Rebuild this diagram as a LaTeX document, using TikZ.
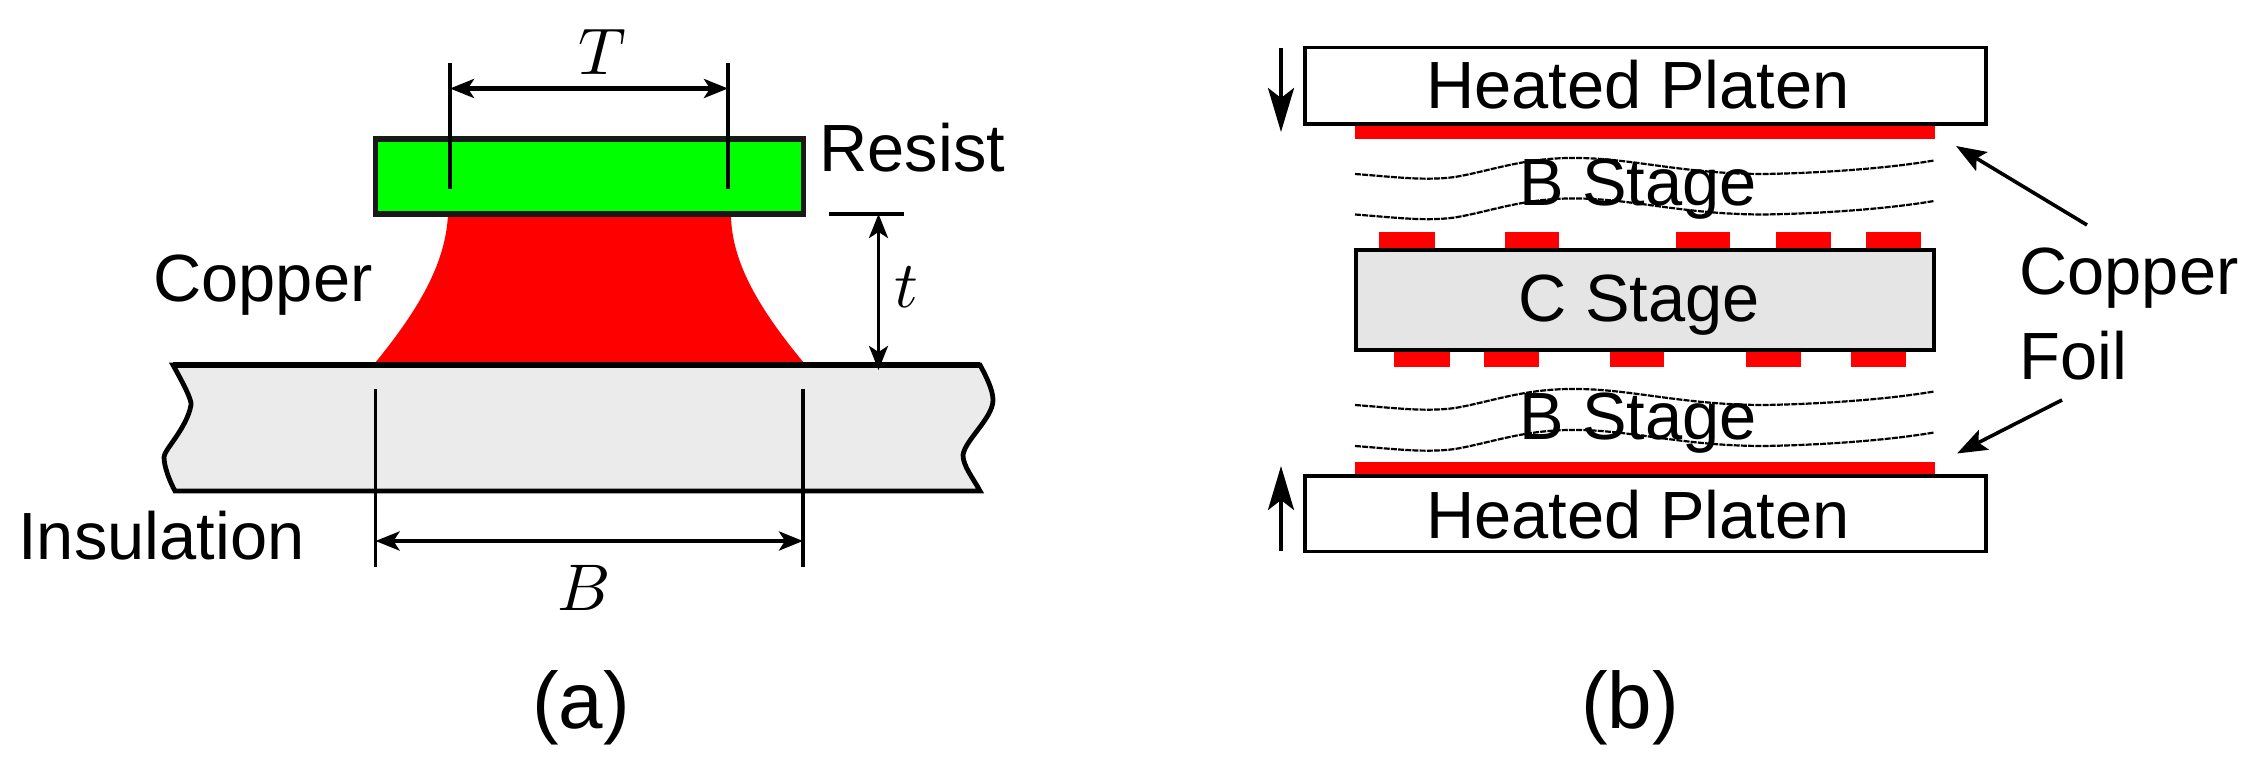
\documentclass[tikz,border=0pt]{standalone}
\usepackage{fontspec}
\setmainfont{Liberation Sans}
\usetikzlibrary{arrows.meta}
\definecolor{cugreen}{RGB}{0,255,0}
\definecolor{curedd}{RGB}{255,0,0}
\definecolor{insgray}{RGB}{235,235,235}
\definecolor{cgray}{RGB}{229,229,229}
\newcommand{\bigmath}[1]{\scalebox{3.3}{$#1$}}
\tikzset{
  lbl/.style={inner sep=0pt,font=\fontsize{33.4}{38}\selectfont,text=black},
  lblw/.style={lbl,anchor=west},
  captext/.style={inner sep=0pt,font=\fontsize{40}{45}\selectfont},
  mathlbl/.style={inner sep=0pt},
  dim/.style={line width=2.1pt,{Stealth[length=12pt,width=9.5pt,inset=3pt]}-{Stealth[length=12pt,width=9.5pt,inset=3pt]}},
  ext/.style={line width=1.8pt},
  ptr/.style={line width=1.8pt,-{Stealth[length=15pt,width=11pt,inset=3pt]}},
  press/.style={line width=1.8pt,-{Stealth[length=22pt,width=13pt,inset=5pt]}},
  platen/.style={draw=black,line width=1.8pt,fill=white},
  foil/.style={fill=curedd},
  wave/.style={line width=1.1pt,dash pattern=on 3pt off 0.6pt},
}
\begin{document}
\begin{tikzpicture}[x=0.5pt,y=-0.5pt]
\path[use as bounding box] (0,0) rectangle (2257,763);
% --- panel (a)
\fill[curedd] (448,214) .. controls (446,262) and (420,308) .. (375,363) -- (804,363)
   .. controls (760,310) and (731,262) .. (731,214) -- cycle;
\draw[fill=insgray,line width=2.4pt] (173,365) .. controls (183,383) and (192,400) .. (191,405)
   .. controls (187,428) and (164,450) .. (164,457) .. controls (164,467) and (170,482) .. (175,491)
   -- (980,491) .. controls (973,478) and (963,466) .. (963,455)
   .. controls (965,440) and (993,418) .. (993,400) .. controls (993,390) and (986,376) .. (980,365) -- cycle;
\draw[line width=3pt] (173,365) -- (980,365);
\draw[fill=cugreen,line width=2.8pt,draw=black!90] (375.5,139) rectangle (803.5,214);
\coordinate (tl1) at (450,63); \coordinate (tl2) at (450,189);
\coordinate (tr1) at (728,63); \coordinate (tr2) at (728,189);
\coordinate (bl1) at (375.5,389); \coordinate (bl2) at (375.5,567);
\coordinate (br1) at (803,389); \coordinate (br2) at (803,567);
\coordinate (ta) at (450,88.5); \coordinate (tb) at (728,88.5);
\coordinate (ba) at (375.5,541); \coordinate (bb) at (803,541);
\coordinate (ha) at (829,214); \coordinate (hb) at (904,214);
\coordinate (ga) at (878.5,214); \coordinate (gb) at (878.5,370);
\draw[ext] (tl1) -- (tl2);
\draw[ext] (tr1) -- (tr2);
\draw[ext] (bl1) -- (bl2);
\draw[ext] (br1) -- (br2);
\draw[ext,line width=2.2pt] (ha) -- (hb);
\draw[dim] (ta) -- (tb);
\draw[dim] (ba) -- (bb);
\draw[dim,line width=1.8pt] (ga) -- (gb);
\node[mathlbl] (lT) at (602,52) {\bigmath{T}};
\node[mathlbl] (lB) at (584,588) {\bigmath{B}};
\node[mathlbl] (lt) at (906,287) {\bigmath{t}};
\node[lblw] (resist) at (819,148) {Resist};
\node[lblw] (copper) at (153,285) {Copper};
\node[lblw] (insul) at (18,536) {Insulation};
\node[captext] (capa) at (581,708) {(a)};
% --- panel (b)
\fill[foil] (1355,124) rectangle (1935,139);
\fill[foil] (1355,462) rectangle (1935,475.5);
\node[platen,minimum width=340.5pt,minimum height=38.2pt,inner sep=0pt] (ptop) at (1645.5,85.8) {};
\node[platen,minimum width=340.5pt,minimum height=37.8pt,inner sep=0pt] (pbot) at (1645.5,513.7) {};
\foreach \a/\b in {1379/1435,1505/1559,1676/1730,1776/1831,1866/1921}
  \fill[foil] (\a,232) rectangle (\b,250);
\foreach \a/\b in {1394/1450,1484/1539,1610/1664,1746/1801,1851/1906}
  \fill[foil] (\a,350) rectangle (\b,367);
\draw[fill=cgray,line width=2.2pt] (1356,250) rectangle (1934,350);
\foreach \d in {0,40.5,231,272}{
  \draw[wave] (1355,\d+174) .. controls (1395,\d+177) and (1425,\d+181) .. (1455,\d+177)
    .. controls (1495,\d+170) and (1525,\d+157) .. (1580,\d+158)
    .. controls (1635,\d+159) and (1685,\d+174) .. (1764,\d+174)
    .. controls (1825,\d+173) and (1890,\d+168) .. (1934,\d+160.5);
}
\node[lbl] (hp1) at (1638,85) {Heated Platen};
\node[lbl] (hp2) at (1638,515) {Heated Platen};
\node[lbl] (bs1) at (1638,189) {B Stage};
\node[lbl] (bs2) at (1638,423) {B Stage};
\node[lbl] (cs) at (1639,305) {C Stage};
\node[lblw] (cf1) at (2019,278) {Copper};
\node[lblw] (cf2) at (2019,356) {Foil};
\node[captext] (capb) at (1630,708) {(b)};
\coordinate (p1a) at (1281,47.7); \coordinate (p1b) at (1281,132);
\coordinate (p2a) at (1281,551); \coordinate (p2b) at (1281,466);
\coordinate (c1a) at (2087,225); \coordinate (c1b) at (1956,146);
\coordinate (c2a) at (2062,400); \coordinate (c2b) at (1957,453.5);
\draw[press] (p1a) -- (p1b);
\draw[press] (p2a) -- (p2b);
\draw[ptr] (c1a) -- (c1b);
\draw[ptr] (c2a) -- (c2b);
\end{tikzpicture}
\end{document}
